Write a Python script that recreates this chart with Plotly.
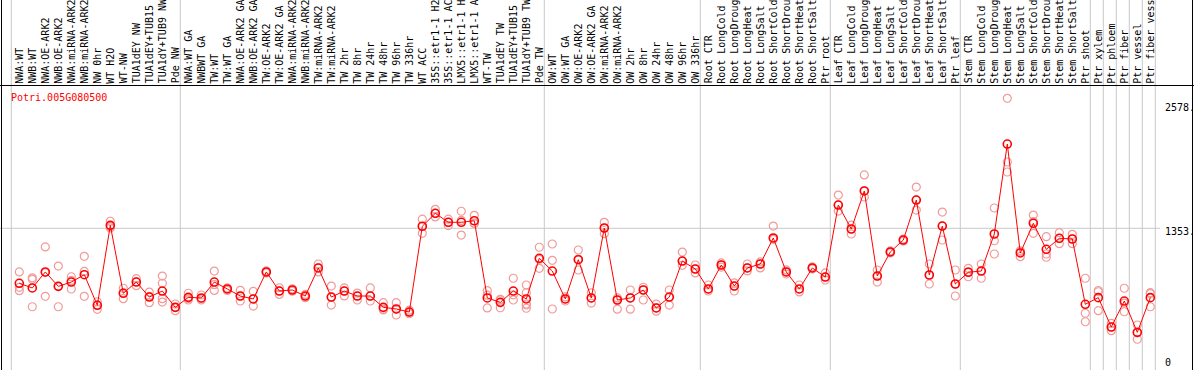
import plotly.graph_objects as go

title_text = "Potri.005G080500"

categories = [
    "NWA:WT", "NWB:WT", "NWA:OE-ARK2", "NWB:OE-ARK2", "NWA:miRNA-ARK2", "NWB:miRNA-ARK2",
    "NW 0hr", "WT H2O", "WT-NW", "TUA1dEY NW", "TUA1dEY+TUB15 NW", "TUA1dY+TUB9 NW", "Pde NW",
    "NWA:WT GA", "NWBWT GA", "TW:WT", "TW:WT GA", "NWA:OE-ARK2 GA", "NWB:OE-ARK2 GA",
    "TW:OE-ARK2", "TW:OE-ARK2 GA", "NWA:miRNA-ARK2 GA", "NWB:miRNA-ARK2 GA", "TW:miRNA-ARK2",
    "TW:miRNA-ARK2 GA", "TW 2hr", "TW 8hr", "TW 24hr", "TW 48hr", "TW 96hr", "TW 336hr",
    "WT ACC", "35S::etr1-1 H2O", "35S::etr1-1 ACC", "LMX5::etr1-1 H2O", "LMX5::etr1-1 ACC",
    "WT-TW", "TUA1dEY TW", "TUA1dEY+TUB15 TW", "TUA1dY+TUB9 TW", "Pde TW",
    "OW:WT", "OW:WT GA", "OW:OE-ARK2", "OW:OE-ARK2 GA", "OW:miRNA-ARK2", "OW:miRNA-ARK2 GA",
    "OW 2hr", "OW 8hr", "OW 24hr", "OW 48hr", "OW 96hr", "OW 336hr",
    "Root CTR", "Root LongCold", "Root LongDrought", "Root LongHeat", "Root LongSalt",
    "Root ShortCold", "Root ShortDrought", "Root ShortHeat", "Root ShortSalt", "Ptr root",
    "Leaf CTR", "Leaf LongCold", "Leaf LongDrought", "Leaf LongHeat", "Leaf LongSalt",
    "Leaf ShortCold", "Leaf ShortDrought", "Leaf ShortHeat", "Leaf ShortSalt", "Ptr leaf",
    "Stem CTR", "Stem LongCold", "Stem LongDrought", "Stem LongHeat", "Stem LongSalt",
    "Stem ShortCold", "Stem ShortDrought", "Stem ShortHeat", "Stem ShortSalt", "Ptr shoot",
    "Ptr xylem", "Ptr phloem", "Ptr fiber", "Ptr vessel", "Ptr fiber vessel",
]

# number of categories in each experiment group (separators drawn between groups)
group_sizes = [13, 28, 12, 10, 10, 10, 1, 1, 1, 1, 1]

mean_values = [
    814, 768, 925, 784, 826, 898, 598, 1382, 716, 826, 679, 738, 578,
    676, 670, 826, 758, 689, 660, 925, 738, 748, 689, 964, 679, 738, 689, 689,
    578, 562, 532, 1373, 1500, 1412, 1412, 1427, 670, 627, 738, 660, 1059,
    934, 660, 1045, 670, 1356, 650, 670, 748, 572, 679, 1032, 954,
    758, 993, 787, 964, 1003, 1258, 925, 758, 964, 875,
    1581, 1346, 1719, 885, 1121, 1238, 1630, 895, 1375, 807,
    922, 934, 1297, 2179, 1111, 1402, 1147, 1255, 1248, 608,
    673, 385, 640, 333, 673,
]

replicates = [
    [925, 774, 741], [853, 584, 867], [1170, 919, 686], [983, 584, 785], [878, 758, 842],
    [1078, 686, 930], [633, 559, 602], [1422, 1356, 1368], [765, 663, 720], [859, 790, 829],
    [728, 624, 685], [885, 814, 663, 630], [611, 545, 578],
    [716, 650, 662], [699, 650, 661], [934, 800, 744], [770, 760, 744], [745, 689, 640],
    [735, 660, 590], [935, 925, 915], [770, 738, 705], [760, 748, 736], [705, 689, 673],
    [1003, 964, 925], [787, 679, 600], [768, 738, 690], [718, 689, 650], [768, 689, 640],
    [624, 552, 559], [624, 503, 559], [550, 532, 515], [1442, 1373, 1304], [1539, 1500, 1464],
    [1442, 1412, 1380], [1520, 1430, 1287], [1480, 1402, 1400], [741, 697, 572], [650, 657, 574],
    [863, 701, 650], [797, 722, 601, 569, 611], [1167, 1049, 961],
    [1199, 1039, 562], [680, 660, 640], [1140, 1051, 944], [720, 670, 620], [1412, 1356, 1300],
    [670, 650, 560], [748, 670, 560], [775, 748, 650], [610, 572, 540], [748, 679, 600],
    [1120, 1032, 990], [993, 954, 915],
    [797, 758, 738], [1013, 993, 973], [817, 787, 738], [1003, 964, 935], [1023, 1003, 964],
    [1375, 1258, 1245], [945, 925, 905], [797, 758, 729], [954, 964, 974], [915, 875, 846],
    [1679, 1581, 1522], [1385, 1346, 1297], [1876, 1719, 1660], [944, 885, 826], [1111, 1121, 1131],
    [1248, 1238, 1228], [1757, 1630, 1532], [1003, 895, 807], [1512, 1375, 1238], [944, 807, 689],
    [961, 927, 878], [1003, 936, 863], [1552, 1231, 1101], [2627, 2003, 1905], [1075, 1125, 1133],
    [1483, 1419, 1304], [1271, 1101, 1069], [1310, 1253, 1202], [1294, 1248, 1202], [863, 520, 437],
    [731, 545, 743], [349, 385, 421], [765, 535, 620], [405, 265, 329], [722, 584, 713],
]

y_tick_values = [0, 1353, 2578]
y_tick_labels = ["0", "1353.", "2578."]

# ---------------------------------------------------------------------------
W, H = 1194, 370
MONO = "DejaVu Sans Mono, Liberation Mono, monospace"
RED = "#FF0000"
PINK = "#F29A9A"
GRID = "#C8C8C8"

xs = list(range(1, len(categories) + 1))
rep_x, rep_y = [], []
for i, reps in enumerate(replicates):
    for v in reps:
        rep_x.append(xs[i])
        rep_y.append(v)

fig = go.Figure()
fig.add_trace(go.Scatter(
    x=rep_x, y=rep_y, mode="markers", hoverinfo="skip",
    marker=dict(symbol="circle-open", size=8, color=PINK, line=dict(width=1.2, color=PINK)),
))
fig.add_trace(go.Scatter(
    x=xs, y=mean_values, mode="lines+markers",
    line=dict(color=RED, width=1),
    marker=dict(symbol="circle-open", size=8, color=RED, line=dict(width=1.6, color=RED)),
))

shapes = []
# group separators
pos = 0
bounds = [0]
for g in group_sizes:
    pos += g
    bounds.append(pos)
for b in bounds:
    shapes.append(dict(type="line", xref="x", yref="paper", x0=b + 0.385, x1=b + 0.385,
                       y0=0, y1=1, line=dict(color=GRID, width=1), layer="below"))
# horizontal grid at middle tick
shapes.append(dict(type="line", xref="paper", yref="y", x0=0, x1=1160 / W,
                   y0=y_tick_values[1], y1=y_tick_values[1],
                   line=dict(color=GRID, width=1), layer="below"))
# black frame lines
shapes.append(dict(type="line", xref="paper", yref="paper", x0=1.5 / W, x1=1.5 / W, y0=0, y1=1,
                   line=dict(color="black", width=1)))
shapes.append(dict(type="line", xref="paper", yref="paper", x0=1192.5 / W, x1=1192.5 / W, y0=0, y1=1,
                   line=dict(color="black", width=1)))
shapes.append(dict(type="line", xref="paper", yref="paper", x0=0, x1=1, y0=1 - 85.5 / H, y1=1 - 85.5 / H,
                   line=dict(color="black", width=1)))

annotations = []
for i, name in enumerate(categories):
    annotations.append(dict(
        x=xs[i], xref="x", y=1 - 84.5 / H, yref="paper", text=name, textangle=-90,
        xanchor="center", yanchor="bottom", showarrow=False, borderpad=0,
        font=dict(family=MONO, size=10, color="black"),
    ))
annotations.append(dict(
    x=9 / W, xref="paper", y=1 - 97 / H, yref="paper", text=title_text, showarrow=False,
    xanchor="left", yanchor="middle", font=dict(family=MONO, size=10, color=RED),
))
shifts = [4, -3.7, -3.7]
for v, t, s in zip(y_tick_values, y_tick_labels, shifts):
    annotations.append(dict(
        x=1163 / W, xref="paper", y=v, yref="y", yshift=s, text=t, showarrow=False,
        xanchor="left", yanchor="middle", font=dict(family=MONO, size=10, color="black"),
    ))

x_px0, x_step = 6.3, 13.0
y_zero_px, y_k = 366.3, 0.102
fig.update_layout(
    width=W, height=H, margin=dict(l=0, r=0, t=0, b=0, pad=0),
    paper_bgcolor="white", plot_bgcolor="white", showlegend=False,
    xaxis=dict(range=[-x_px0 / x_step, (W - x_px0) / x_step], visible=False, fixedrange=True),
    yaxis=dict(range=[(y_zero_px - H) / y_k, y_zero_px / y_k], visible=False, fixedrange=True),
    shapes=shapes, annotations=annotations,
)

fig.write_html("out.html", config={"displayModeBar": False},
               post_script="document.body.style.margin='0px';document.body.style.overflow='hidden';")
